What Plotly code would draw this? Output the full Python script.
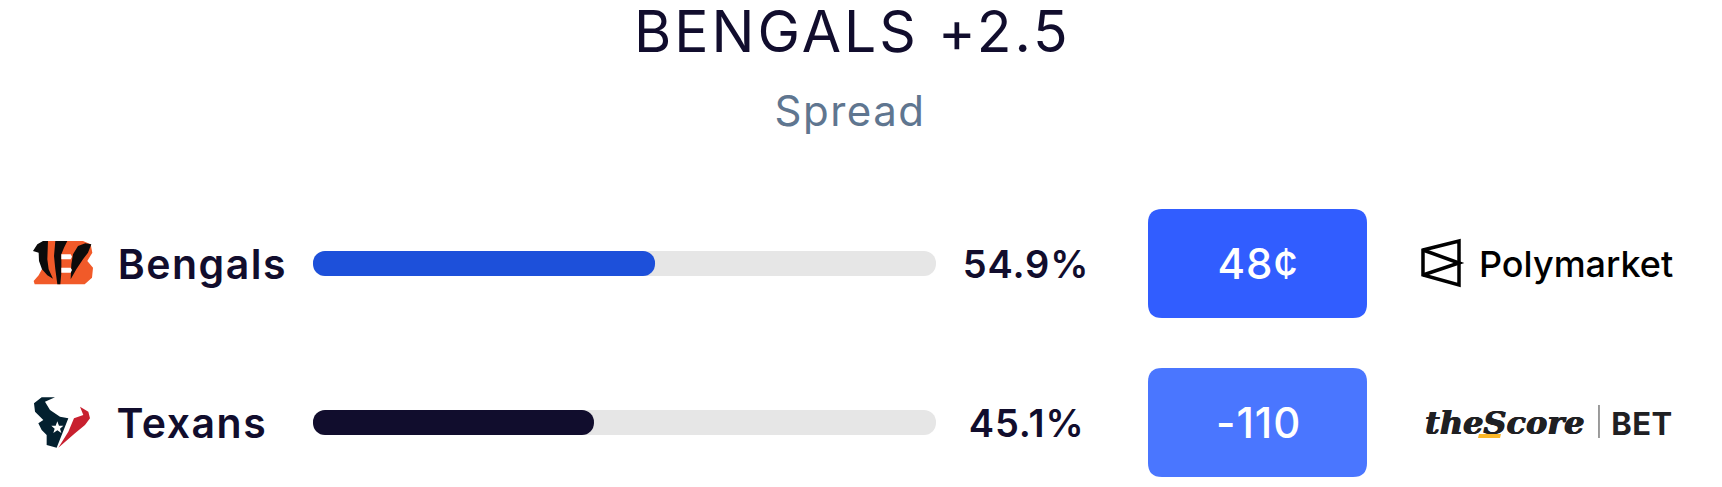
import json

import plotly.graph_objects as go

W = 1722
H = 487

teams = ["Bengals", "Texans"]
probs = [54.9, 45.1]
prob_labels = ["54.9%", "45.1%"]
odds = ["48¢", "-110"]
fill_colors = ["#1d50da", "#110d2d"]
button_colors = ["#315dff", "#4a76ff"]
track = [100, 100]
rows = [0, 1]

INK = "#110d2d"
FONT = "Inter"

# plot area is laid out in page pixels, the bars come from the axes
BAR_LEFT, BAR_RIGHT = 313, 936
ROW_Y = [263.5, 422.5]
ROW_GAP = ROW_Y[1] - ROW_Y[0]
BAR_H = 25

x_range = [-BAR_LEFT / (BAR_RIGHT - BAR_LEFT) * 100, (W - BAR_LEFT) / (BAR_RIGHT - BAR_LEFT) * 100]
y_range = [(H - ROW_Y[0]) / ROW_GAP, -ROW_Y[0] / ROW_GAP]


def px(x):
    return x / W


def py(y):
    return 1 - y / H


def path(points, close=True):
    d = "M" + " L".join(f"{px(x):.5f},{py(y):.5f}" for x, y in points)
    return d + (" Z" if close else "")


def round_rect(x0, y0, x1, y1, r):
    # corners are cut with quadratic curves
    a = f"M{px(x0 + r):.5f},{py(y0):.5f} L{px(x1 - r):.5f},{py(y0):.5f}"
    b = f"Q{px(x1):.5f},{py(y0):.5f} {px(x1):.5f},{py(y0 + r):.5f} L{px(x1):.5f},{py(y1 - r):.5f}"
    c = f"Q{px(x1):.5f},{py(y1):.5f} {px(x1 - r):.5f},{py(y1):.5f} L{px(x0 + r):.5f},{py(y1):.5f}"
    e = f"Q{px(x0):.5f},{py(y1):.5f} {px(x0):.5f},{py(y1 - r):.5f} L{px(x0):.5f},{py(y0 + r):.5f}"
    f_ = f"Q{px(x0):.5f},{py(y0):.5f} {px(x0 + r):.5f},{py(y0):.5f} Z"
    return " ".join([a, b, c, e, f_])


fig = go.Figure()
# an explicit base makes plotly round both ends of the bar
fig.add_bar(y=rows, x=track, base=0, orientation="h", width=BAR_H / ROW_GAP,
            marker=dict(color="#e6e6e6", line_width=0, cornerradius=12), hoverinfo="skip")
# fill bars sit on their own axes, otherwise only the longest bar of a row gets round corners
fig.add_bar(y=rows, x=probs, base=0, orientation="h", width=BAR_H / ROW_GAP,
            xaxis="x2", yaxis="y2", marker=dict(color=fill_colors, line_width=0, cornerradius=12))

shapes = []


def add_shape(d, fill="rgba(0,0,0,0)", line=None, width=0):
    shapes.append(dict(type="path", xref="paper", yref="paper", path=d, fillcolor=fill,
                       line=dict(color=line or "rgba(0,0,0,0)", width=width), layer="above"))


def logo(points, ox, oy, fill):
    # logo outlines were traced on 3x crops of the picture
    add_shape(path([(ox + a / 3, oy + b / 3) for a, b in points]), fill)


# odds buttons
add_shape(round_rect(1148, 209, 1367, 318, 14), button_colors[0])
add_shape(round_rect(1148, 368, 1367, 477, 14), button_colors[1])

# bengals logo
BX, BY = 28, 236
logo([(55, 15), (165, 15), (188, 25), (193, 50), (178, 75), (195, 95), (192, 125), (170, 145), (20, 145),
      (17, 135), (32, 118), (50, 85), (50, 50), (30, 45)], BX, BY, "#f15a29")
logo([(15, 45), (28, 25), (45, 15), (60, 15), (58, 70), (62, 100), (75, 128), (58, 118), (42, 100),
      (33, 75), (32, 50)], BX, BY, "#0b0b0b")
logo([(82, 15), (118, 15), (108, 35), (100, 55), (100, 110), (97, 145), (88, 145), (82, 100), (78, 60)],
     BX, BY, "#0b0b0b")
logo([(190, 25), (172, 22), (150, 30), (135, 55), (130, 85), (128, 130), (145, 100), (165, 70), (180, 50)],
     BX, BY, "#0b0b0b")
logo([(100, 55), (128, 55), (132, 62), (128, 70), (100, 70)], BX, BY, "#ffffff")
logo([(100, 95), (128, 95), (132, 102), (128, 110), (100, 110)], BX, BY, "#ffffff")

# texans logo
TX, TY = 0, 380
logo([(165, 52), (125, 52), (102, 70), (105, 95), (130, 120), (115, 130), (125, 150), (140, 165), (140, 195),
      (170, 203), (205, 115), (180, 110), (150, 90), (135, 65)], TX, TY, "#03202f")
logo([(240, 80), (265, 95), (270, 115), (255, 135), (225, 160), (175, 203), (205, 155), (222, 115), (250, 105)],
     TX, TY, "#c8202f")
logo([(172, 124), (177, 137), (190, 137), (180, 146), (184, 159), (172, 151), (160, 159), (164, 146), (154, 137),
      (167, 137)], TX, TY, "#ffffff")

# polymarket mark
add_shape(path([(1423, 250), (1459, 241), (1459, 285), (1423, 275)]), line="#000000", width=3.5)
add_shape(path([(1423, 250), (1459, 263), (1423, 275)], close=False), line="#000000", width=3.5)

# thescore underline and divider
add_shape(path([(1479, 434), (1501, 434), (1500, 438), (1478, 438)]), "#fdb827")
add_shape(path([(1599, 405), (1599, 438)], close=False), line="#3a3a3a", width=1)

spacing = {}


def note(x, y, text, size, color=INK, weight=400, family=FONT, style="normal", shadow="none", track_px=0):
    spacing[text] = track_px
    fig.add_annotation(xref="paper", yref="paper", x=px(x), y=py(y), text=text, showarrow=False,
                       xanchor="center", yanchor="middle",
                       font=dict(size=size, color=color, family=family, weight=weight, style=style,
                                 shadow=shadow))


note(852, 32, "BENGALS +2.5", 57, track_px=3)
note(850, 110, "Spread", 42, color="#5f7690", track_px=1.5)

team_x = [202.6, 192]
for i, row_y in enumerate(ROW_Y):
    note(team_x[i], row_y, teams[i], 41, weight=600, track_px=1.5)
    note(1026, row_y, prob_labels[i], 38, weight=600, track_px=0.9)
    note(1258, row_y, odds[i], 42, color="#ffffff", weight=500, track_px=1)

note(1576, 264, "Polymarket", 36, color="#000000", weight=500)
note(1505, 423, "theScore", 32, color="#1f2023", weight=700, family="DejaVu Serif", style="italic",
     shadow="0.6px 0 0 #1f2023, -0.6px 0 0 #1f2023")
note(1642, 423, "BET", 31, color="#1f2023", weight=700, track_px=0.5)

fig.update_layout(
    width=W,
    height=H,
    barmode="overlay",
    showlegend=False,
    paper_bgcolor="#ffffff",
    plot_bgcolor="#ffffff",
    margin=dict(l=0, r=0, t=0, b=0),
    shapes=shapes,
    xaxis=dict(range=x_range, visible=False, fixedrange=True),
    yaxis=dict(range=y_range, visible=False, fixedrange=True),
    xaxis2=dict(range=x_range, visible=False, fixedrange=True, overlaying="x"),
    yaxis2=dict(range=y_range, visible=False, fixedrange=True, overlaying="y"),
)

# annotations have no letter spacing option, so it is set on the drawn text
post = ("document.body.style.margin='0';var sp=" + json.dumps(spacing, ensure_ascii=False) + ";"
        "document.querySelectorAll('.annotation-text').forEach(function(t){"
        "t.style.letterSpacing=(sp[t.textContent]||0)+'px';});")
fig.write_html("out.html", post_script=post, config=dict(displayModeBar=False))
